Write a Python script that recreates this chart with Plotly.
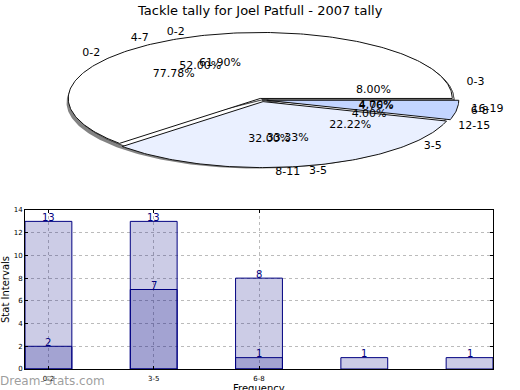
import numpy as np
import plotly.graph_objects as go

title_text = "Tackle tally for Joel Patfull - 2007 tally"
x_title = "Frequency"
y_title = "Stat Intervals"

# ---- pie data (three overlaid pies) ----
pie_a_labels = ["0-3", "4-7", "8-11", "12-15", "16-19"]
pie_a_values = [2, 13, 8, 1, 1]
pie_b_labels = ["0-2", "3-5", "6-8"]
pie_b_values = [13, 7, 1]
pie_c_labels = ["0-2", "3-5"]
pie_c_values = [7, 2]

pie_b_colors = ["#ffffff", "#eaf0ff", "#c3d5ff"]

# ---- bar data ----
bar_categories = ["0-2", "3-5", "6-8", "9-11", "12-14"]
bar_tick_labels = ["0-2", "3-5", "6-8"]
bar_light = [13, 13, 8, 1, 1]
bar_dark = [2, 7, 1]

FONT = "DejaVu Sans"
fig = go.Figure()


def angles(values):
    tot = float(sum(values))
    cum = np.concatenate([[0.0], np.cumsum(values)]) / tot * 360.0
    return cum[:-1], cum[1:]


def wedge(a0, a1, dx=0.0, dy=0.0):
    n = max(3, int(abs(a1 - a0)) + 2)
    t = np.radians(np.linspace(a0, a1, n))
    xs = np.concatenate([[dx], dx + np.cos(t), [dx]])
    ys = np.concatenate([[dy], dy + np.sin(t), [dy]])
    return xs, ys


def add_poly(xs, ys, fill, line_color, lw):
    fig.add_trace(go.Scatter(x=xs, y=ys, mode="lines", fill="toself",
                             fillcolor=fill,
                             line=dict(color=line_color, width=lw),
                             xaxis="x2", yaxis="y2", hoverinfo="skip",
                             showlegend=False))


# shadow
xs, ys = wedge(0, 360, -0.018, -0.04)
add_poly(xs, ys, "rgba(90,90,90,0.75)", "rgba(0,0,0,0)", 0)

# pie C and A (underneath)
for vals in (pie_c_values, pie_a_values):
    s, e = angles(vals)
    for a0, a1 in zip(s, e):
        xs, ys = wedge(a0, a1)
        add_poly(xs, ys, "#ffffff", "#333333", 0.8)

# pie B (on top, slightly exploded)
s, e = angles(pie_b_values)
for i, (a0, a1) in enumerate(zip(s, e)):
    mid = np.radians((a0 + a1) / 2)
    ex = 0.025
    xs, ys = wedge(a0, a1, ex * np.cos(mid), ex * np.sin(mid))
    add_poly(xs, ys, pie_b_colors[i], "#111111", 1)

# pie texts
for labels, vals in ((pie_a_labels, pie_a_values),
                     (pie_b_labels, pie_b_values),
                     (pie_c_labels, pie_c_values)):
    s, e = angles(vals)
    tot = float(sum(vals))
    mids = np.radians((s + e) / 2)
    pct = ["%.2f%%" % (100.0 * v / tot) for v in vals]
    fig.add_trace(go.Scatter(x=0.6 * np.cos(mids), y=0.6 * np.sin(mids),
                             mode="text", text=pct,
                             textposition="middle center",
                             textfont=dict(family=FONT, size=11, color="#000"),
                             xaxis="x2", yaxis="y2", hoverinfo="skip",
                             showlegend=False))
    lx = 1.1 * np.cos(mids)
    ly = 1.1 * np.sin(mids)
    fig.add_trace(go.Scatter(x=lx, y=ly, mode="text", text=labels,
                             textposition=["middle right" if v > 0 else "middle left" for v in lx],
                             textfont=dict(family=FONT, size=11, color="#000"),
                             xaxis="x2", yaxis="y2", hoverinfo="skip",
                             showlegend=False))

# ---- bars ----
xpos = list(range(len(bar_categories)))
bw = 0.445
fig.add_trace(go.Bar(x=xpos, y=bar_light, width=bw,
                     marker=dict(color="rgba(0,0,128,0.2)",
                                 line=dict(color="#000080", width=1)),
                     showlegend=False, hoverinfo="skip"))
fig.add_trace(go.Bar(x=xpos[:len(bar_dark)], y=bar_dark, width=bw,
                     marker=dict(color="rgba(0,0,128,0.2)",
                                 line=dict(color="#000080", width=1)),
                     showlegend=False, hoverinfo="skip"))

annotations = []
for series in (bar_light, bar_dark):
    for xi, v in zip(xpos, series):
        annotations.append(dict(x=xi, y=v, xref="x", yref="y", text=str(v),
                                showarrow=False, yanchor="middle", yshift=4,
                                font=dict(family=FONT, size=10, color="#000080")))

annotations.append(dict(x=0.5, y=1.0, xref="paper", yref="paper",
                        text=title_text, showarrow=False, xanchor="center",
                        yanchor="middle", yshift=-10,
                        font=dict(family=FONT, size=13, color="#000")))
annotations.append(dict(x=0.5, y=0.0, xref="x domain", yref="paper",
                        text=x_title, showarrow=False, xanchor="center",
                        yanchor="middle", yshift=2,
                        font=dict(family=FONT, size=10, color="#000")))
annotations.append(dict(x=0.0, y=0.0, xref="paper", yref="paper",
                        text="Dream-Stats.com", showarrow=False,
                        xanchor="left", yanchor="middle", yshift=9, xshift=-2,
                        font=dict(family=FONT, size=12, color="rgba(140,140,140,0.85)")))

fig.update_layout(
    width=520, height=390,
    margin=dict(l=0, r=0, t=0, b=0, autoexpand=False),
    paper_bgcolor="white", plot_bgcolor="white",
    barmode="overlay",
    annotations=annotations,
    xaxis=dict(domain=[25 / 520, 493 / 520], range=[-bw / 2, 4 + bw / 2],
               automargin=False,
               tickmode="array", tickvals=xpos[:len(bar_tick_labels)],
               ticktext=bar_tick_labels,
               tickfont=dict(family=FONT, size=7, color="#000"),
               ticklabelstandoff=3,
               showgrid=True, gridcolor="#bbbbbb", griddash="dot", gridwidth=1,
               showline=True, linecolor="#000", linewidth=1, mirror="ticks",
               ticks="inside", ticklen=3, tickcolor="#000",
               zeroline=False),
    yaxis=dict(domain=[1 - 369 / 390, 1 - 210 / 390], range=[0, 14],
               automargin=False,
               tickmode="array", tickvals=list(range(0, 15, 2)),
               tickfont=dict(family=FONT, size=7, color="#000"),
               showgrid=True, gridcolor="#bbbbbb", griddash="dot", gridwidth=1,
               showline=True, linecolor="#000", linewidth=1, mirror="ticks",
               ticks="inside", ticklen=3, tickcolor="#000",
               zeroline=False,
               title=dict(text=y_title, standoff=4,
                          font=dict(family=FONT, size=10, color="#000"))),
    xaxis2=dict(domain=[0, 1], range=[-262 / 192, 258 / 192], visible=False,
                anchor="y2", automargin=False),
    yaxis2=dict(domain=[0.5, 1], range=[(100 - 195) / 66, 100 / 66],
                visible=False, anchor="x2", automargin=False),
)

fig.write_html("out.html", config={"displayModeBar": False},
               post_script="document.body.style.margin='0';document.body.style.overflow='hidden';")
